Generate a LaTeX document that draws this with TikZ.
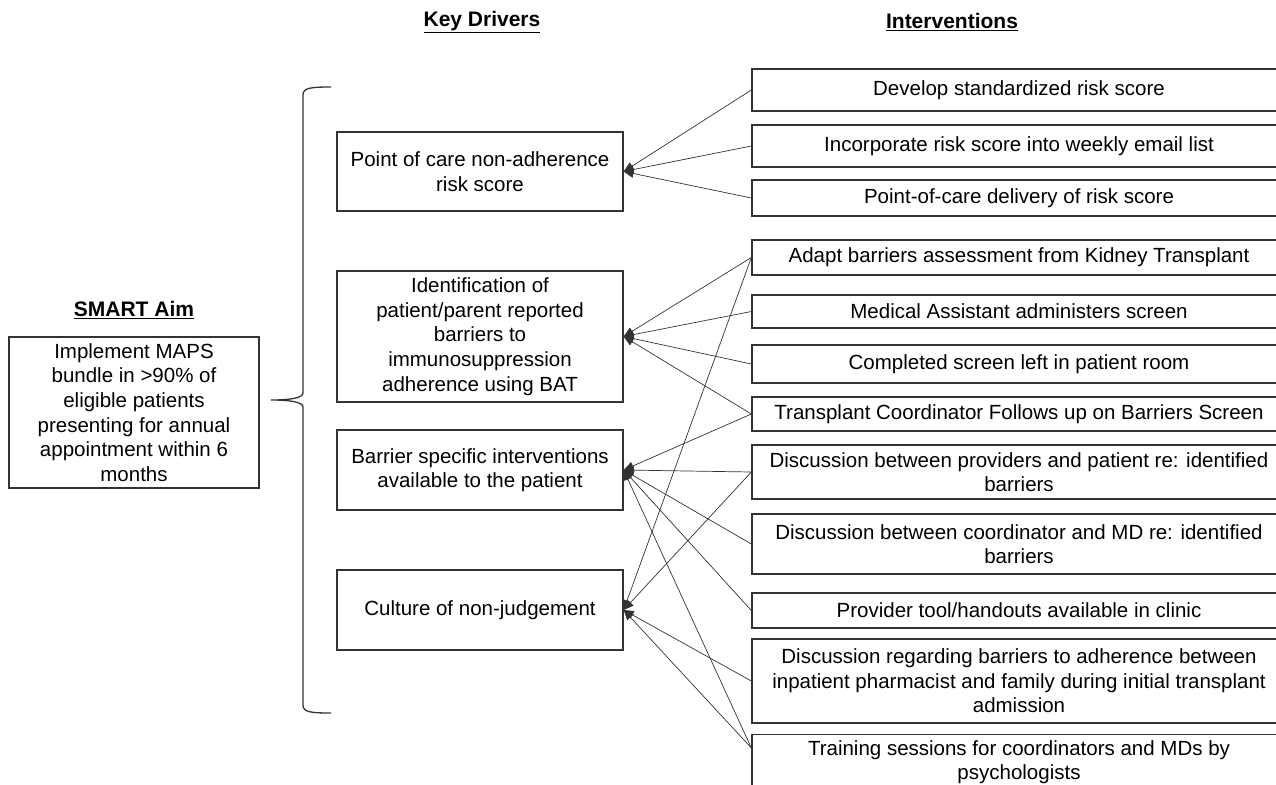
\documentclass[tikz,border=0pt]{standalone}
\usepackage{fontspec}
\setmainfont{Liberation Sans}
\usetikzlibrary{arrows.meta}
\begin{document}
\begin{tikzpicture}[x=1pt, y=-1pt,
    box/.style={draw=black!80, line width=1.3pt, align=center, inner sep=2pt,
      font=\fontsize{20.5}{24.6}\selectfont},
    aim/.style={box, minimum width=250pt},
    driver/.style={box, minimum width=286pt},
    action/.style={box, minimum width=534pt},
    heading/.style={font=\fontsize{21}{25}\selectfont\bfseries},
    link/.style={-{Triangle[length=10pt, width=8.5pt]}, draw=black!80, line width=0.7pt}]
    \useasboundingbox (0,0) rectangle (1276,784);
    \node[heading] (aimhead) at (134,310) {\underline{SMART Aim}};
    \node[heading] (drvhead) at (482,22) {\underline{Key Drivers}};
    \node[heading] (acthead) at (952,22) {\underline{Interventions}};
    \node[aim, minimum height=151pt] (aim) at (134,412.5) {Implement MAPS\\bundle in >90\% of\\eligible patients\\presenting for annual\\appointment within 6\\months};
    \draw[black!80, line width=1.3pt] (331,87) .. controls (310,87) and (303,88) .. (303,95) -- (303,393)
      .. controls (303,398) and (290,400) .. (271,400) .. controls (290,400) and (303,402) .. (303,407)
      -- (303,705) .. controls (303,712) and (310,713) .. (331,713);
    \node[driver, minimum height=79pt] (d1) at (480,171.5) {Point of care non-adherence\\risk score};
    \node[driver, minimum height=131pt] (d2) at (480,336.5) {Identification of\\patient/parent reported\\barriers to\\immunosuppression\\adherence using BAT};
    \node[driver, minimum height=80pt] (d3) at (480,470) {Barrier specific interventions\\available to the patient};
    \node[driver, minimum height=80pt] (d4) at (480,610) {Culture of non-judgement};
    \node[action, minimum height=42pt] (i1) at (1019,90) {Develop standardized risk score};
    \node[action, minimum height=42pt] (i2) at (1019,146) {Incorporate risk score into weekly email list};
    \node[action, minimum height=36pt] (i3) at (1019,198) {Point-of-care delivery of risk score};
    \node[action, minimum height=35pt] (i4) at (1019,257.5) {Adapt barriers assessment from Kidney Transplant};
    \node[action, minimum height=33pt] (i5) at (1019,311.5) {Medical Assistant administers screen};
    \node[action, minimum height=38pt] (i6) at (1019,364) {Completed screen left in patient room};
    \node[action, minimum height=34pt] (i7) at (1019,414) {Transplant Coordinator Follows up on Barriers Screen};
    \node[action, minimum height=54pt] (i8) at (1019,472) {Discussion between providers and patient re: identified\\barriers};
    \node[action, minimum height=60pt] (i9) at (1019,544) {Discussion between coordinator and MD re: identified\\barriers};
    \node[action, minimum height=35pt] (i10) at (1019,610.5) {Provider tool/handouts available in clinic};
    \node[action, minimum height=84pt] (i11) at (1019,681) {Discussion regarding barriers to adherence between\\inpatient pharmacist and family during initial transplant\\admission};
    \node[action, minimum height=55pt] (i12) at (1019,762) {Training sessions for coordinators and MDs by\\psychologists};
    \foreach \a/\d in {i1.west/d1, i2.west/d1, i3.west/d1, i4.west/d2, i5.west/d2, i6.west/d2, i7.west/d2,
      i7.west/d3, i8.west/d3, i9.west/d3, i10.west/d3, i12.177/d3, i4.west/d4, i8.west/d4, i11.west/d4, i12.177/d4}
      \draw[link] (\a) -- (\d.east);
\end{tikzpicture}
\end{document}
